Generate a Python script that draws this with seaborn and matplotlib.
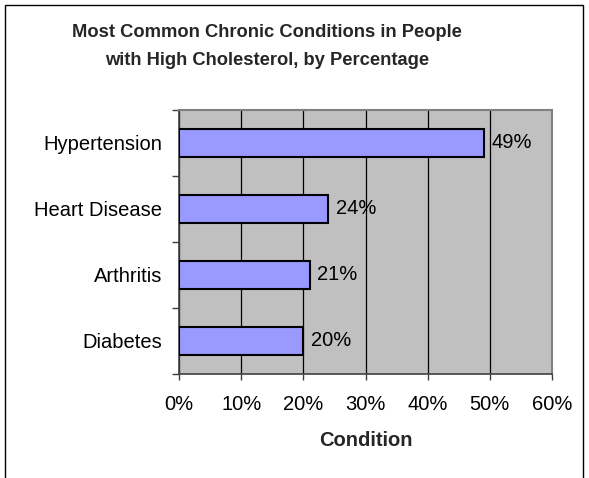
import matplotlib
matplotlib.use("Agg")
import matplotlib.pyplot as plt
from matplotlib.patches import Rectangle
from matplotlib.ticker import FixedLocator, PercentFormatter
import seaborn as sns
import pandas as pd

conditions = ["Hypertension", "Heart Disease", "Arthritis", "Diabetes"]
percentages = [49, 24, 21, 20]
x_ticks = [0, 10, 20, 30, 40, 50, 60]

sns.set_style("white")
plt.rcParams["font.family"] = ["Liberation Sans", "DejaVu Sans"]

df = pd.DataFrame({"condition": conditions, "pct": percentages})

fig = plt.figure(figsize=(5.89, 4.78), dpi=100)
fig.patch.set_facecolor("white")

# outer chart frame
fig.patches.append(Rectangle((5 / 589, -0.05), 578 / 589, 1 - 5 / 478 + 0.05,
                             transform=fig.transFigure, fill=False,
                             edgecolor="black", linewidth=1.0))

ax = fig.add_axes([179 / 589, 1 - 374 / 478, (552 - 179) / 589, (374 - 110) / 478])
ax.set_facecolor("#C0C0C0")

sns.barplot(data=df, x="pct", y="condition", orient="h", ax=ax,
            color="#9999FF", saturation=1, width=0.41,
            edgecolor="black", linewidth=1.5, zorder=3)

ax.set_xlim(0, 60)
ax.set_ylim(3.5, -0.5)
ax.xaxis.set_major_locator(FixedLocator(x_ticks))
ax.xaxis.set_major_formatter(PercentFormatter(decimals=0))
ax.grid(axis="x", color="black", linewidth=0.9, zorder=1)
ax.set_axisbelow(True)

fs = 14.5
for i, v in enumerate(percentages):
    ax.text(v + 1.2, i, f"{v}%", va="center", ha="left", fontsize=fs, color="black")

# category boundary ticks on the value axis
ax.yaxis.set_minor_locator(FixedLocator([-0.5, 0.5, 1.5, 2.5, 3.5]))
ax.tick_params(axis="y", which="major", length=0, labelsize=fs, pad=12, colors="black")
ax.tick_params(axis="y", which="minor", length=5, width=1, color="#404040", direction="out", left=True)
ax.tick_params(axis="x", which="major", length=4, width=1, color="#404040", direction="out",
               bottom=True, labelsize=fs, pad=11, labelcolor="black")

for side in ["left", "bottom"]:
    ax.spines[side].set_color("#404040")
    ax.spines[side].set_linewidth(1.2)
for side in ["top", "right"]:
    ax.spines[side].set_visible(True)
    ax.spines[side].set_color("#808080")
    ax.spines[side].set_linewidth(1.5)

ax.set_ylabel("")
ax.set_xlabel("Condition", fontsize=fs, fontweight="bold", labelpad=12)

fig.text(267 / 589, 1 - 46.5 / 478,
         "Most Common Chronic Conditions in People\nwith High Cholesterol, by Percentage",
         ha="center", va="center", fontsize=13.2, fontweight="bold", linespacing=1.85)

fig.savefig("out.png", dpi=100)
